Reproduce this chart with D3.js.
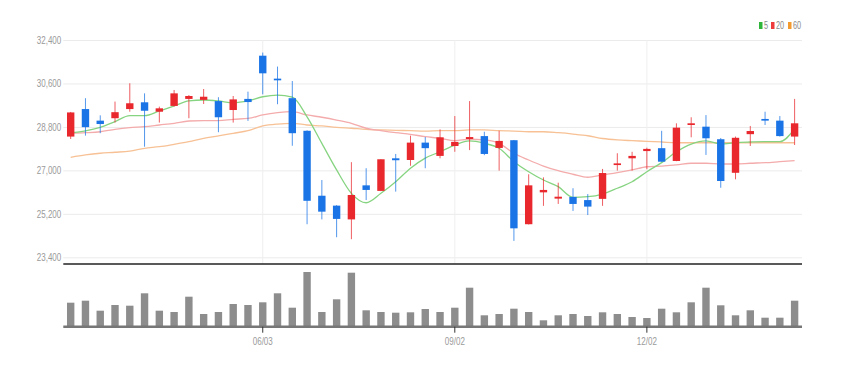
<!DOCTYPE html>
<html>
<head>
<meta charset="utf-8">
<script src="https://cdn.jsdelivr.net/npm/d3@7"></script>
<style>
body { margin: 0; background: #fff; }
svg text { font-family: "Liberation Sans Narrow", "Liberation Sans", Arial, sans-serif; }
</style>
</head>
<body>
<svg id="chart"></svg>
<script>
const width = 842, height = 367;

// weekly candles
const dates = ["03/04","03/11","03/18","03/25","04/01","04/08","04/15","04/22","04/29","05/06",
    "05/13","05/20","05/27","06/03","06/10","06/17","06/24","07/01","07/08","07/15",
    "07/22","07/29","08/05","08/12","08/19","08/26","09/02","09/09","09/16","09/23",
    "09/30","10/07","10/14","10/21","10/28","11/04","11/11","11/18","11/25","12/02",
    "12/09","12/16","12/23","12/30","01/06","01/13","01/20","01/27","02/03","02/10"];
const opens = [28400,29540,29060,29160,29540,29820,29430,29670,29960,29920,
    29870,29500,29960,31750,30800,29990,28640,25950,25540,24970,
    26380,26150,27500,27430,28150,27600,28010,28300,28420,27930,
    28250,24770,26090,25830,25900,25770,25820,27220,27500,27800,
    27920,27390,28880,28810,28290,26900,28500,29130,29060,28400];
const highs = [29420,29990,29280,29850,30610,30190,29640,30330,30120,30370,
    30030,30080,30260,31880,31300,30700,28660,26600,25560,27340,
    27090,27460,27680,28440,28380,28700,29250,29870,28600,28640,
    28260,26840,26710,26490,26260,26020,27060,27710,27770,27940,
    28640,28950,29200,29290,28340,28400,28840,29430,29250,29960];
const lows = [28300,28440,28540,28980,29430,27980,28980,29640,29160,29750,
    28580,28980,29050,30150,29740,28020,24770,24970,24230,24150,
    25770,26140,26120,27190,27090,27500,27770,27840,27630,26990,
    24080,24760,25530,25610,25320,25150,25530,26990,26990,27050,
    27350,27380,28370,27640,26280,26630,28010,28880,28400,28050];
const closes = [29400,28790,28920,29410,29780,29470,29570,30190,30080,30050,
    29200,29940,29830,31020,30730,28540,25740,25290,24990,25980,
    26190,27460,27420,28150,27920,28370,28180,28380,27680,28220,
    24600,26380,26190,25910,25610,25500,26890,27290,27600,27890,
    27360,28770,28950,28330,26560,28350,28630,29060,28420,28950];
const volumes = [240,260,160,217,210,334,160,147,300,127,
    147,227,217,244,334,190,547,147,274,540,
    164,147,140,144,177,147,190,390,114,127,
    180,147,64,114,127,107,144,127,97,87,
    180,144,244,390,214,114,164,90,90,260];
const ma5 = [28560,28640,28785,29020,29265,29265,29460,29670,29875,29915,
    29875,29800,29875,30050,30120,30030,29220,28120,27020,26050,
    25660,26050,26530,27090,27510,27770,28050,28220,28120,27915,
    27360,26945,26600,26325,25885,25910,26020,26260,26530,26945,
    27320,27770,28090,28220,28090,28150,28175,28190,28190,28715];
const ma20 = [28535,28560,28600,28700,28770,28810,28880,28950,29045,29060,
    29060,29115,29150,29295,29390,29430,29295,29200,29085,28950,
    28745,28645,28560,28495,28395,28330,28230,28290,28260,28120,
    27710,27430,27180,26985,26840,26715,26810,26905,27020,27150,
    27180,27225,27295,27295,27265,27265,27295,27320,27360,27400];
const ma60 = [27540,27640,27710,27750,27800,27915,27980,28080,28190,28330,
    28425,28535,28645,28840,28920,28950,28880,28840,28785,28745,
    28700,28675,28660,28645,28630,28645,28645,28675,28675,28645,
    28630,28600,28600,28560,28505,28435,28320,28260,28230,28205,
    28175,28145,28145,28145,28145,28145,28145,28145,28145,28145];

const priceTicks = [23400, 25200, 27000, 28800, 30600, 32400];
const dateTicks = ["06/03", "09/02", "12/02"];
const maNames = ["5", "20", "60"];
const maColors = ["#86d481", "#f4abab", "#f7c195"];
const legendColors = ["#2fb53a", "#ee3a3a", "#f39a2e"];
const upColor = "#e8282d", downColor = "#1a74e6";

const left = 63.3, right = 802;
const priceTop = 40, priceBottom = 257.3, priceLine = 264;
const volTop = 272, volBase = 326.7;
const squeeze = 0.73;

const svg = d3.select("#chart")
    .attr("width", width)
    .attr("height", height);

const x = d3.scaleBand()
    .domain(dates)
    .range([left, right])
    .paddingInner(0.5)
    .paddingOuter(0.25);
const cx = d => x(d) + x.bandwidth() / 2;

const y = d3.scaleLinear()
    .domain([23400, 32400])
    .range([priceBottom, priceTop]);

const yVol = d3.scaleLinear()
    .domain([0, d3.max(volumes)])
    .range([volBase, volTop]);

// grid
svg.append("g")
    .attr("transform", `translate(${left},0)`)
    .call(d3.axisLeft(y).tickValues(priceTicks).tickSize(-(right - left)).tickFormat(""))
    .call(g => g.select(".domain").remove())
    .call(g => g.selectAll("line").attr("stroke", "#ebebeb"));

svg.append("g")
    .selectAll("line")
    .data(dateTicks)
    .join("line")
    .attr("x1", d => cx(d))
    .attr("x2", d => cx(d))
    .attr("y1", priceTop)
    .attr("y2", priceLine)
    .attr("stroke", "#efefef");

// y labels
svg.append("g")
    .attr("transform", `translate(${left},0)`)
    .call(d3.axisLeft(y).tickValues(priceTicks).tickSize(0).tickFormat(d3.format(",")))
    .call(g => g.select(".domain").remove())
    .call(g => g.selectAll("text")
        .attr("x", 0)
        .attr("transform", `translate(-2,0) scale(${squeeze},1)`)
        .attr("fill", "#9a9a9a")
        .attr("font-size", 11)
        .style("font-family", "'Liberation Sans Narrow', 'Liberation Sans', Arial, sans-serif"));

// moving averages
const maLine = d3.line()
    .curve(d3.curveMonotoneX)
    .x((d, i) => cx(dates[i]))
    .y(d => y(d));

const mas = [ma60, ma20, ma5];
const maCol = [maColors[2], maColors[1], maColors[0]];
svg.append("g")
    .selectAll("path")
    .data(mas)
    .join("path")
    .attr("d", d => maLine(d))
    .attr("fill", "none")
    .attr("stroke", (d, i) => maCol[i])
    .attr("stroke-width", 1.3);

// candles
const candles = dates.map((d, i) => ({
    date: d, open: opens[i], high: highs[i], low: lows[i], close: closes[i]
}));
const candle_g = svg.append("g")
    .selectAll("g")
    .data(candles)
    .join("g");
candle_g.append("line")
    .attr("x1", d => cx(d.date))
    .attr("x2", d => cx(d.date))
    .attr("y1", d => y(d.high))
    .attr("y2", d => y(d.low))
    .attr("stroke", d => d.close >= d.open ? upColor : downColor)
    .attr("stroke-opacity", 0.75)
    .attr("stroke-width", 1);
candle_g.append("rect")
    .attr("x", d => x(d.date))
    .attr("width", x.bandwidth())
    .attr("y", d => y(Math.max(d.open, d.close)))
    .attr("height", d => Math.max(1.5, Math.abs(y(d.open) - y(d.close))))
    .attr("fill", d => d.close >= d.open ? upColor : downColor);

// separator under price panel
svg.append("line")
    .attr("x1", left)
    .attr("x2", right)
    .attr("y1", priceLine)
    .attr("y2", priceLine)
    .attr("stroke", "#222")
    .attr("stroke-width", 1.6);

// volume
svg.append("g")
    .selectAll("rect")
    .data(volumes)
    .join("rect")
    .attr("x", (d, i) => x(dates[i]))
    .attr("width", x.bandwidth())
    .attr("y", d => yVol(d))
    .attr("height", d => volBase - yVol(d))
    .attr("fill", "#8d8d8d");

svg.append("line")
    .attr("x1", left)
    .attr("x2", right)
    .attr("y1", volBase)
    .attr("y2", volBase)
    .attr("stroke", "#777")
    .attr("stroke-width", 2.5);

svg.append("g")
    .attr("transform", `translate(0,${volBase})`)
    .call(d3.axisBottom(x).tickValues(dateTicks).tickSizeOuter(0).tickSize(6).tickPadding(5))
    .call(g => g.select(".domain").remove())
    .call(g => g.selectAll(".tick line").attr("stroke", "#333"))
    .call(g => g.selectAll("text")
        .attr("x", 0)
        .attr("transform", `scale(${squeeze},1)`)
        .attr("fill", "#9a9a9a")
        .attr("font-size", 11)
        .style("font-family", "'Liberation Sans Narrow', 'Liberation Sans', Arial, sans-serif"));

// legend
const legend_g = svg.append("g")
    .attr("transform", "translate(759,22)");
const lg = legend_g.selectAll("g")
    .data(maNames)
    .join("g")
    .attr("transform", (d, i) => `translate(${[0, 12, 29][i]},0)`);
lg.append("rect")
    .attr("width", 3.5)
    .attr("height", 7)
    .attr("fill", (d, i) => legendColors[i]);
lg.append("text")
    .attr("x", 0)
    .attr("y", 7)
    .attr("transform", `translate(5,0) scale(${squeeze},1)`)
    .attr("font-size", 10)
    .attr("fill", "#8a8a8a")
    .text(d => d);
</script>
</body>
</html>
